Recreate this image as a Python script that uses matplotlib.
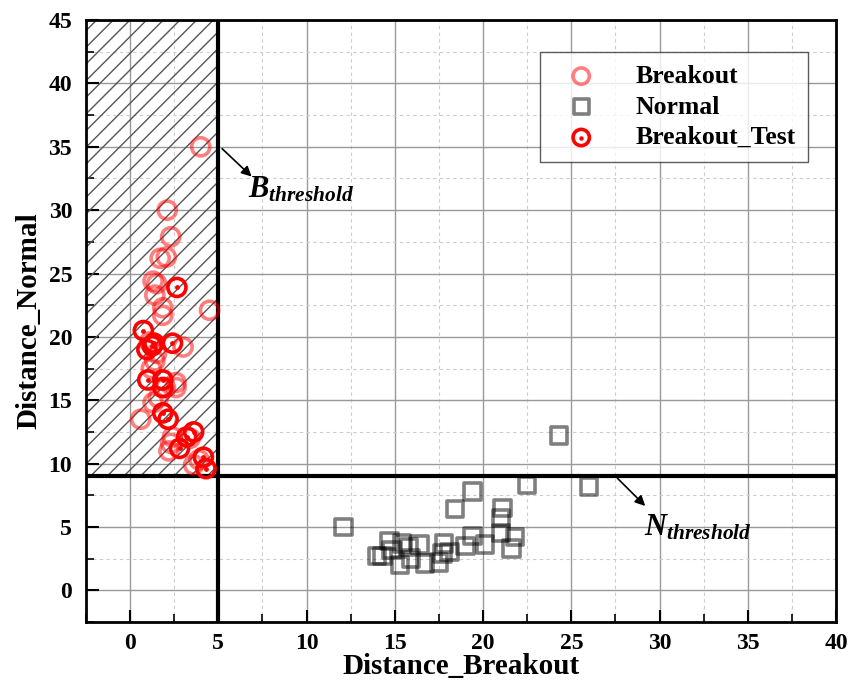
import matplotlib
matplotlib.use("Agg")
from matplotlib import pyplot as plt
from matplotlib.patches import Rectangle
from matplotlib.ticker import MultipleLocator

# Breakout samples (light red circles)
brk_x = [4.0, 2.1, 2.3, 1.7, 2.05, 1.3, 1.5, 1.4, 1.85, 1.85, 4.5, 1.5, 1.4, 3.0,
         2.6, 2.0, 2.6, 1.3, 0.6, 2.4, 3.6, 3.9, 1.6, 2.3, 1.1, 3.4, 2.2, 1.2]
brk_y = [35.0, 30.0, 27.9, 26.2, 26.3, 24.4, 24.2, 23.3, 22.3, 21.7, 22.1, 18.7, 18.1, 19.2,
         16.4, 16.0, 16.0, 14.8, 13.5, 12.1, 9.9, 10.3, 15.2, 11.6, 19.6, 12.0, 11.0, 17.5]

# Test breakout samples (red circles with dot)
test_x = [2.65, 0.75, 1.25, 0.95, 2.4, 1.0, 1.85, 1.85, 1.85, 2.15, 3.2, 3.6, 2.8, 4.15, 4.3, 1.35]
test_y = [23.9, 20.5, 19.3, 19.0, 19.5, 16.6, 16.6, 16.0, 14.0, 13.5, 12.1, 12.5, 11.2, 10.5, 9.6, 19.5]

# Normal samples (gray squares)
nrm_x = [12.1, 24.3, 26.0, 22.5, 19.4, 18.4, 21.1, 21.0, 21.0, 21.8, 21.6, 20.1, 19.4, 19.0,
         17.8, 17.7, 17.5, 16.7, 16.4, 15.9, 15.3, 15.4, 14.7, 14.3, 14.0, 14.8, 18.1, 15.8]
nrm_y = [5.0, 12.2, 8.2, 8.3, 7.8, 6.4, 6.5, 5.7, 4.5, 4.2, 3.3, 3.6, 4.3, 3.5,
         3.7, 2.9, 2.2, 2.1, 3.6, 2.5, 2.0, 3.7, 3.9, 2.7, 2.7, 3.2, 3.0, 3.4]

x_ticks = [0, 5, 10, 15, 20, 25, 30, 35, 40]
y_ticks = [0, 5, 10, 15, 20, 25, 30, 35, 40, 45]
b_thr = 5
n_thr = 9

plt.rcParams['font.family'] = ['Liberation Serif', 'DejaVu Serif']
plt.rcParams['font.weight'] = 'bold'
plt.rcParams['mathtext.fontset'] = 'custom'
plt.rcParams['mathtext.it'] = 'Liberation Serif:italic:bold'
plt.rcParams['mathtext.rm'] = 'Liberation Serif:bold'


def main():
    fig = plt.figure(figsize=(8.61, 6.93), dpi=100)
    ax = fig.add_axes([0.0999, 0.1025, 0.8711, 0.8685])

    ax.set_xlim(-2.5, 40)
    ax.set_ylim(-2.5, 45)

    # hatched breakout zone
    ax.add_patch(Rectangle((-2.5, n_thr), b_thr + 2.5, 45 - n_thr, fill=False,
                           hatch='//', edgecolor='#555555', linewidth=0, zorder=1))

    ax.grid(which='major', color='#999999', linewidth=1.0, zorder=0)
    ax.grid(which='minor', color='#cccccc', linewidth=0.8, linestyle=(0, (3, 3)), zorder=0)
    ax.set_axisbelow(True)

    ax.axvline(b_thr, color='k', linewidth=3, zorder=2)
    ax.axhline(n_thr, color='k', linewidth=3, zorder=2)

    h1 = ax.scatter(brk_x, brk_y, s=170, facecolors='none', edgecolors='red',
                    alpha=0.5, linewidths=2.6, zorder=3)
    h2 = ax.scatter(nrm_x, nrm_y, s=140, marker='s', facecolors='none', edgecolors='k',
                    alpha=0.5, linewidths=2.6, zorder=3)
    h3 = ax.scatter(test_x, test_y, s=170, facecolors='none', edgecolors='red',
                    linewidths=2.6, zorder=4)
    h3d = ax.scatter(test_x, test_y, s=6, color='red', zorder=4)

    ax.xaxis.set_minor_locator(MultipleLocator(2.5))
    ax.yaxis.set_minor_locator(MultipleLocator(2.5))
    ax.set_xticks(x_ticks)
    ax.set_yticks(y_ticks)
    ax.tick_params(which='major', direction='in', length=9, width=1.5, labelsize=17, pad=10)
    ax.tick_params(axis='x', which='major', pad=8)
    ax.tick_params(which='minor', direction='in', length=6, width=1.2)
    for sp in ax.spines.values():
        sp.set_linewidth(2)

    ax.set_xlabel('Distance_Breakout', fontsize=21, fontweight='bold', labelpad=-1)
    ax.set_ylabel('Distance_Normal', fontsize=21, fontweight='bold', labelpad=4)

    ax.annotate('', xy=(7.0, 32.5), xytext=(5.1, 35.0),
                arrowprops=dict(arrowstyle='-|>', color='k', lw=1.2, mutation_scale=15))
    ax.text(6.7, 31.0, r'$B_{threshold}$', fontsize=22)
    ax.annotate('', xy=(29.3, 6.5), xytext=(27.5, 9.0),
                arrowprops=dict(arrowstyle='-|>', color='k', lw=1.2, mutation_scale=15))
    ax.text(29.1, 4.3, r'$N_{threshold}$', fontsize=22)

    leg = ax.legend([h1, h2, (h3, h3d)], ['Breakout', 'Normal', 'Breakout_Test'],
                    loc='upper right', bbox_to_anchor=(0.963, 0.947), borderaxespad=0,
                    fontsize=18.5, frameon=True, fancybox=False, borderpad=0.5,
                    labelspacing=0.3, handletextpad=1.0, handlelength=2.2, markerscale=0.9)
    leg.get_frame().set_edgecolor('#333333')
    leg.get_frame().set_linewidth(1.0)

    fig.savefig('out.png', dpi=100)


if __name__ == '__main__':
    main()
